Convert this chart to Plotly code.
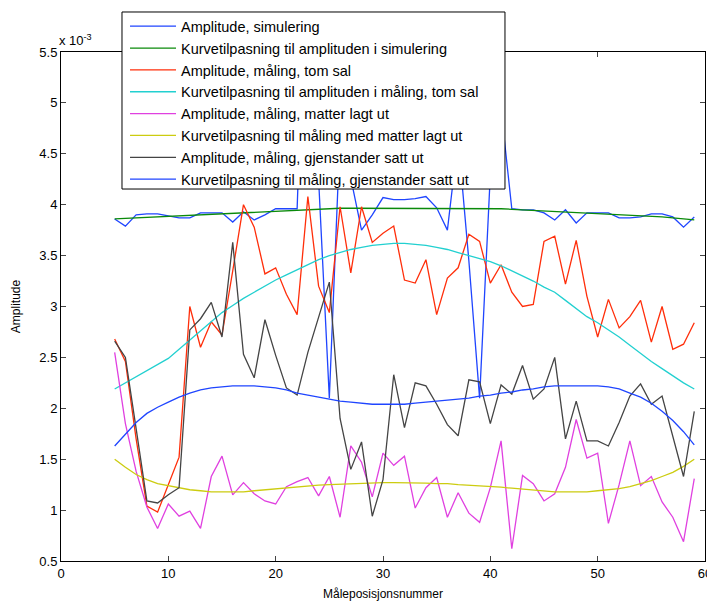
import plotly.graph_objects as go

positions = list(range(5, 60))

amp_sim = [3.86, 3.79, 3.90, 3.91, 3.91,
           3.89, 3.87, 3.87, 3.92, 3.92,
           3.92, 3.83, 3.93, 3.85, 3.90,
           3.96, 3.96, 3.96, 7.00, 4.25,
           2.10, 4.70, 4.26, 3.75, 3.90,
           4.07, 4.05, 4.05, 4.06, 4.08,
           3.97, 3.75, 4.65, 3.45, 2.10,
           4.30, 4.94, 3.96, 3.95, 3.95,
           3.92, 3.85, 3.95, 3.82, 3.92,
           3.92, 3.92, 3.87, 3.87, 3.88,
           3.91, 3.91, 3.88, 3.78, 3.88]

fit_sim = [3.86, 3.865, 3.87, 3.875, 3.88,
           3.885, 3.89, 3.895, 3.90, 3.905,
           3.91, 3.92, 3.925, 3.93, 3.935,
           3.94, 3.945, 3.95, 3.955, 3.96,
           3.965, 3.965, 3.965, 3.965, 3.965,
           3.965, 3.965, 3.965, 3.965, 3.965,
           3.965, 3.965, 3.965, 3.965, 3.965,
           3.965, 3.96, 3.955, 3.95, 3.945,
           3.94, 3.935, 3.93, 3.925, 3.92,
           3.915, 3.91, 3.905, 3.90, 3.895,
           3.89, 3.88, 3.87, 3.86, 3.85]

amp_empty = [2.68, 2.46, 1.70, 1.04, 0.98,
             1.25, 1.52, 3.00, 2.60, 2.85,
             2.72, 3.35, 4.00, 3.78, 3.32,
             3.38, 3.12, 2.92, 4.08, 3.20,
             2.94, 3.98, 3.33, 3.98, 3.63,
             3.72, 3.79, 3.26, 3.23, 3.46,
             2.92, 3.28, 3.38, 3.71, 3.64,
             3.23, 3.41, 3.14, 3.00, 3.02,
             3.64, 3.69, 3.22, 3.65, 3.10,
             2.70, 3.07, 2.79, 2.90, 3.06,
             2.65, 3.00, 2.58, 2.63, 2.84]

fit_empty = [2.19, 2.25, 2.31, 2.37, 2.43,
             2.49, 2.58, 2.67, 2.76, 2.85,
             2.94, 3.01, 3.08, 3.14, 3.20,
             3.26, 3.31, 3.36, 3.41, 3.46,
             3.50, 3.53, 3.56, 3.58, 3.60,
             3.61, 3.62, 3.62, 3.61, 3.60,
             3.58, 3.56, 3.53, 3.50, 3.47,
             3.44, 3.40, 3.35, 3.30, 3.25,
             3.19, 3.14, 3.06, 2.98, 2.90,
             2.84, 2.77, 2.70, 2.62, 2.54,
             2.46, 2.39, 2.32, 2.25, 2.19]

amp_mats = [2.55, 1.85, 1.38, 1.03, 0.82,
            1.06, 0.94, 0.99, 0.82, 1.33,
            1.53, 1.15, 1.27, 1.16, 1.09,
            1.06, 1.23, 1.28, 1.32, 1.14,
            1.33, 0.93, 1.63, 1.47, 1.13,
            1.56, 1.44, 1.53, 1.02, 1.22,
            1.32, 0.93, 1.17, 0.97, 0.88,
            1.22, 1.68, 0.62, 1.34, 1.26,
            1.09, 1.16, 1.42, 1.89, 1.51,
            1.56, 0.87, 1.25, 1.68, 1.24,
            1.33, 1.08, 0.93, 0.69, 1.31]

fit_mats = [1.50, 1.42, 1.35, 1.30, 1.26,
            1.24, 1.22, 1.20, 1.19, 1.18,
            1.18, 1.18, 1.18, 1.19, 1.20,
            1.21, 1.22, 1.23, 1.24, 1.245,
            1.25, 1.255, 1.26, 1.265, 1.27,
            1.27, 1.27, 1.27, 1.27, 1.265,
            1.26, 1.26, 1.25, 1.245, 1.24,
            1.235, 1.225, 1.215, 1.205, 1.195,
            1.185, 1.18, 1.18, 1.18, 1.18,
            1.19, 1.20, 1.21, 1.23, 1.26,
            1.29, 1.33, 1.37, 1.43, 1.50]

amp_objects = [2.66, 2.50, 1.80, 1.09, 1.07,
               1.15, 1.22, 2.77, 2.88, 3.04,
               2.70, 3.63, 2.53, 2.30, 2.87,
               2.52, 2.20, 2.13, 2.55, 2.90,
               3.24, 1.90, 1.40, 1.67, 0.94,
               1.30, 2.33, 1.81, 2.25, 2.22,
               2.04, 1.84, 1.73, 2.28, 2.26,
               1.85, 2.23, 2.14, 2.42, 2.09,
               2.19, 2.50, 1.70, 2.07, 1.68,
               1.68, 1.63, 1.86, 2.12, 2.24,
               2.04, 2.12, 1.73, 1.33, 1.97]

fit_objects = [1.63, 1.75, 1.86, 1.95, 2.01,
               2.06, 2.11, 2.15, 2.18, 2.20,
               2.21, 2.22, 2.22, 2.22, 2.21,
               2.20, 2.18, 2.15, 2.13, 2.11,
               2.09, 2.07, 2.06, 2.05, 2.04,
               2.04, 2.04, 2.04, 2.05, 2.06,
               2.07, 2.08, 2.09, 2.10, 2.12,
               2.13, 2.15, 2.16, 2.18, 2.19,
               2.21, 2.22, 2.22, 2.22, 2.22,
               2.22, 2.21, 2.19, 2.15, 2.11,
               2.05, 1.97, 1.88, 1.77, 1.64]

series = [
    ("Amplitude, simulering", amp_sim, "#1f45ff"),
    ("Kurvetilpasning til amplituden i simulering", fit_sim, "#0a8a0a"),
    ("Amplitude, måling, tom sal", amp_empty, "#ff2e0a"),
    ("Kurvetilpasning til amplituden i måling, tom sal", fit_empty, "#22d0d0"),
    ("Amplitude, måling, matter lagt ut", amp_mats, "#e040e0"),
    ("Kurvetilpasning til måling med matter lagt ut", fit_mats, "#cccc10"),
    ("Amplitude, måling, gjenstander satt ut", amp_objects, "#444444"),
    ("Kurvetilpasning til måling, gjenstander satt ut", fit_objects, "#1f45ff"),
]

scale = 1e-3
fig = go.Figure()
for i, (name, vals, color) in enumerate(series):
    fig.add_trace(go.Scatter(
        x=positions, y=[v * scale for v in vals], mode="lines", name=name,
        legendgroup=f"g{i}",
        line=dict(color=color, width=1.3)))

font = "Liberation Sans, Arial, sans-serif"
yt = [0.5 + 0.5 * k for k in range(11)]
fig.update_layout(
    template="none",
    width=707, height=595,
    margin=dict(l=53, r=10, t=44, b=42, autoexpand=False),
    paper_bgcolor="white", plot_bgcolor="white",
    font=dict(family=font, size=12, color="black"),
    showlegend=True,
    legend=dict(x=0.0994, y=1.082, xanchor="left", yanchor="top",
                bgcolor="rgba(0,0,0,0)", borderwidth=0,
                font=dict(family=font, size=14.5), tracegroupgap=1,
                itemwidth=46, traceorder="normal"),
    shapes=[dict(type="rect", xref="paper", yref="paper",
                 x0=0.0947, x1=0.6894, y0=0.7308, y1=1.0786,
                 fillcolor="white", line=dict(color="black", width=1),
                 layer="above")],
    xaxis=dict(range=[0, 60], tickvals=[0, 10, 20, 30, 40, 50, 60],
               ticks="inside", ticklen=5, showline=True, linecolor="black",
               linewidth=1, mirror="ticks", showgrid=False, zeroline=False,
               automargin=False, tickfont=dict(size=13),
               title=dict(text="Måleposisjonsnummer", font=dict(size=12), standoff=10)),
    yaxis=dict(range=[0.5e-3, 5.5e-3], tickvals=[v * scale for v in yt],
               ticktext=[f"{v:g}" for v in yt],
               ticks="inside", ticklen=5, showline=True, linecolor="black",
               linewidth=1, mirror="ticks", showgrid=False, zeroline=False,
               automargin=False, tickfont=dict(size=13),
               title=dict(text="Amplitude", font=dict(size=12), standoff=16)),
    annotations=[dict(x=0, y=1, xref="paper", yref="paper", xanchor="left",
                      yanchor="bottom", showarrow=False, yshift=2, xshift=-4,
                      text="x 10<sup>-3</sup>", font=dict(size=13))],
)

fig.write_html("out.html")
